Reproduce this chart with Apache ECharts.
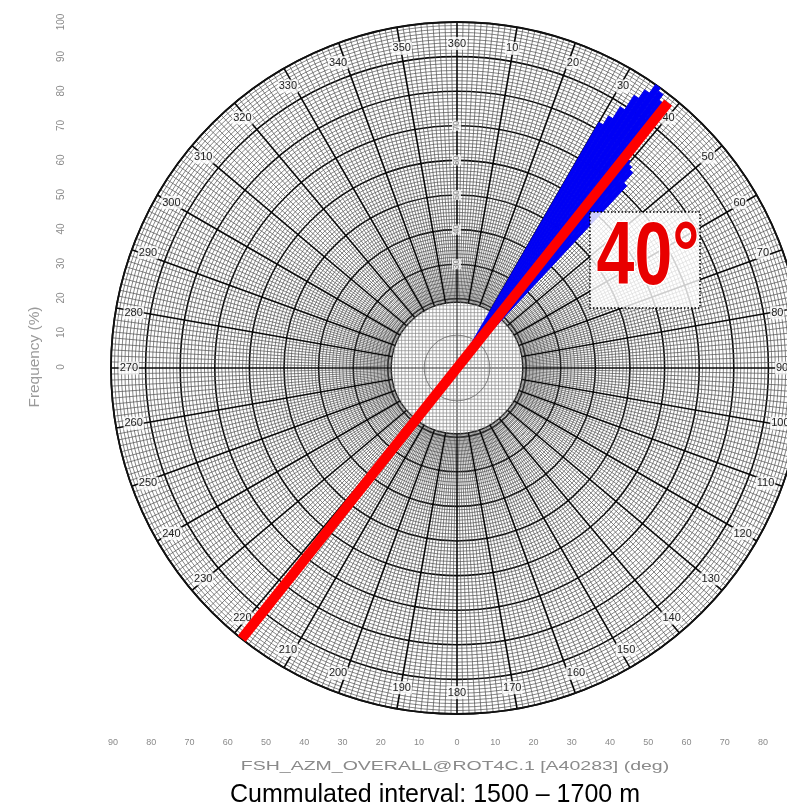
<!DOCTYPE html>
<html><head><meta charset="utf-8">
<script src="https://cdn.jsdelivr.net/npm/echarts@6/dist/echarts.min.js"></script>
<style>html,body{margin:0;padding:0;background:#fff}#c{width:787px;height:811px}</style>
</head><body><div id="c"></div>
<script>
// ---- data ----
const roseBinStart = [30, 31, 32, 33, 34, 35, 36, 37, 38, 39, 40, 41, 42];
const roseFreq     = [82, 85, 89, 94, 97, 100, 99, 97, 95, 78, 77, 76, 72];
const roseBinWidth = 1;
const meanAzimuth = 38.5;          // drawn direction of the red mean line
const meanLineRadius = [98, 100];  // radial extent of both ends (%)
const meanLabel = '40°';
const innerDiskRadius = 19;        // % radius of the central disk
const freqTickMin = 0, freqTickMax = 100, freqTickStep = 10;
const bottomTickLabels = ['90','80','70','60','50','40','30','20','10','0','10','20','30','40','50','60','70','80'];
const xAxisTitle = 'FSH_AZM_OVERALL@ROT4C.1 [A40283] (deg)';
const yAxisTitle = 'Frequency (%)';
const caption = 'Cummulated interval: 1500 – 1700 m';

const FONT = '"Liberation Sans", Arial, sans-serif';
const CENTER = [457, 368];
const RADIUS = 346;

const chart = echarts.init(document.getElementById('c'), null, {renderer: 'canvas'});

function diskRender(params, api) {
  const c = api.coord([0, 0]);
  const p = api.coord([api.value(0), 0]);
  const R = Math.hypot(p[0] - c[0], p[1] - c[1]);
  const children = [{
    type: 'circle', shape: {cx: c[0], cy: c[1], r: R},
    style: {fill: '#fff', stroke: '#222', lineWidth: 1.4}
  }];
  const n = 19, step = R / n;
  for (let k = -n + 1; k < n; k++) {
    const d = k * step;
    const h = Math.sqrt(R * R - d * d);
    const col = k === 0 ? '#333' : '#8a8a8a';
    const lw = k === 0 ? 1.1 : 0.7;
    children.push({type: 'line', shape: {x1: c[0] - h, y1: c[1] + d, x2: c[0] + h, y2: c[1] + d}, style: {stroke: col, lineWidth: lw}});
    children.push({type: 'line', shape: {x1: c[0] + d, y1: c[1] - h, x2: c[0] + d, y2: c[1] + h}, style: {stroke: col, lineWidth: lw}});
  }
  children.push({type: 'circle', shape: {cx: c[0], cy: c[1], r: R / 2}, style: {fill: null, stroke: '#666', lineWidth: 0.8}});
  return {type: 'group', children};
}

function roseRender(params, api) {
  const v = api.value(0), a = api.value(1);
  const c = api.coord([0, 0]);
  const p1 = api.coord([v, a]);
  const p2 = api.coord([v, a + roseBinWidth]);
  const R = Math.hypot(p1[0] - c[0], p1[1] - c[1]);
  const s = Math.atan2(p1[1] - c[1], p1[0] - c[0]);
  const e = Math.atan2(p2[1] - c[1], p2[0] - c[0]);
  return {
    type: 'sector',
    shape: {cx: c[0], cy: c[1], r0: 0, r: R, startAngle: s, endAngle: e, clockwise: true},
    style: {fill: '#0000f5', stroke: '#0000f5', lineWidth: 0.8}
  };
}

const option = {
  animation: false,
  backgroundColor: '#fff',
  textStyle: {fontFamily: FONT},
  polar: [
    {center: CENTER, radius: RADIUS},
    {center: CENTER, radius: RADIUS}
  ],
  angleAxis: [
    {
      polarIndex: 0, type: 'value', min: 0, max: 360, interval: 10,
      startAngle: 90, clockwise: true, z: 0,
      axisLine: {show: true, lineStyle: {color: '#111', width: 1.8}},
      axisTick: {show: false}, axisLabel: {show: false},
      minorTick: {show: false, splitNumber: 10},
      splitLine: {show: true, lineStyle: {color: '#0a0a0a', width: 1.6}},
      minorSplitLine: {show: true, lineStyle: {color: '#505050', width: 0.7}}
    },
    {
      polarIndex: 1, type: 'value', min: 0, max: 360, interval: 10,
      startAngle: 90, clockwise: true, z: 1,
      axisLine: {show: false}, axisTick: {show: false},
      splitLine: {show: false},
      axisLabel: {
        show: true, margin: -28, fontSize: 11, color: '#222', fontFamily: FONT,
        backgroundColor: 'rgba(255,255,255,0.8)', padding: [1, 1],
        formatter: v => (v === 0 ? '360' : String(v))
      }
    }
  ],
  radiusAxis: [
    {
      polarIndex: 0, type: 'value', min: freqTickMin, max: freqTickMax, interval: freqTickStep, z: 0,
      axisLine: {show: false}, axisTick: {show: false}, axisLabel: {show: false},
      minorTick: {show: false, splitNumber: 10},
      splitLine: {show: true, lineStyle: {color: '#0a0a0a', width: 1.6}},
      minorSplitLine: {show: true, lineStyle: {color: '#505050', width: 0.7}}
    },
    {
      polarIndex: 1, type: 'value', min: freqTickMin, max: freqTickMax, interval: freqTickStep, z: 1,
      axisLine: {show: false}, axisTick: {show: false}, splitLine: {show: false},
      axisLabel: {
        show: true, rotate: 90, margin: -4, fontSize: 9, color: '#888',
        backgroundColor: 'rgba(255,255,255,0.8)',
        formatter: v => (v >= 30 && v <= 70 ? String(v) : '')
      }
    }
  ],
  grid: [
    {left: 70, top: 22, bottom: 444, width: 10},
    {left: 113, right: 24, top: 700, bottom: 81}
  ],
  xAxis: [
    {gridIndex: 0, type: 'value', show: false},
    {
      gridIndex: 1, type: 'category', data: bottomTickLabels, boundaryGap: false,
      axisLine: {show: false}, axisTick: {show: false},
      axisLabel: {interval: 0, fontSize: 9, color: '#8a8a8a', margin: 8}
    }
  ],
  yAxis: [
    {
      gridIndex: 0, type: 'value', min: freqTickMin, max: freqTickMax, interval: freqTickStep,
      axisLine: {show: false}, axisTick: {show: false}, splitLine: {show: false},
      axisLabel: {rotate: 90, fontSize: 10, color: '#8a8a8a', margin: 4}
    },
    {gridIndex: 1, type: 'value', show: false}
  ],
  series: [
    {
      type: 'custom', coordinateSystem: 'polar', polarIndex: 0, z: 2,
      data: [[innerDiskRadius, 0]], renderItem: diskRender, silent: true
    },
    {
      type: 'custom', coordinateSystem: 'polar', polarIndex: 0, z: 3,
      data: roseBinStart.map((a, i) => [roseFreq[i], a]), renderItem: roseRender, silent: true
    },
    {
      type: 'line', coordinateSystem: 'polar', polarIndex: 0, z: 4,
      data: [[meanLineRadius[0], meanAzimuth], [meanLineRadius[1], meanAzimuth + 180]],
      symbol: 'none', clip: false,
      lineStyle: {color: '#ff0000', width: 10, cap: 'butt'}
    }
  ],
  graphic: [
    {
      type: 'rect', z: 10, shape: {x: 590, y: 212, width: 110, height: 96},
      style: {fill: 'rgba(255,255,255,0.8)', stroke: '#000', lineWidth: 1.5, lineDash: [1.5, 2]}
    },
    {
      type: 'text', z: 11, x: 648, y: 260, scaleY: 1.3,
      style: {text: meanLabel, font: 'bold 68px ' + FONT, fill: '#e80000', align: 'center', verticalAlign: 'middle',
              stroke: '#ffffff', lineWidth: 2}
    },
    {
      type: 'text', z: 10, x: 35, y: 357, rotation: Math.PI / 2, scaleX: 1.1,
      style: {text: yAxisTitle, font: '14px ' + FONT, fill: '#9a9a9a', align: 'center', verticalAlign: 'middle'}
    },
    {
      type: 'text', z: 10, x: 455, y: 766, scaleX: 1.5,
      style: {text: xAxisTitle, font: '13px ' + FONT, fill: '#8a8a8a', align: 'center', verticalAlign: 'middle'}
    },
    {
      type: 'text', z: 10, x: 435, y: 795,
      style: {text: caption, font: '25px ' + FONT, fill: '#000', align: 'center', verticalAlign: 'middle'}
    }
  ]
};
chart.setOption(option);
</script>
</body></html>
